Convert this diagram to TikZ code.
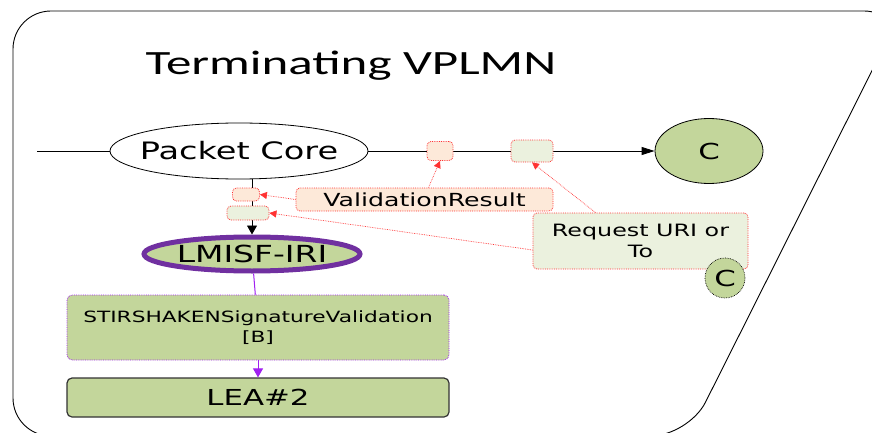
\documentclass[tikz,border=0pt]{standalone}
\usepackage{fontspec}
\newfontfamily\lblfont[FakeStretch=1.4]{DejaVu Sans}
\newfontfamily\ttlfont[FakeStretch=1.5]{Carlito}
\usetikzlibrary{calc}
\usetikzlibrary{arrows.meta}
\usetikzlibrary{shapes.geometric}

\definecolor{leafgreen}{RGB}{195,214,155}
\definecolor{palegreen}{RGB}{235,241,222}
\definecolor{palepeach}{RGB}{253,233,217}
\definecolor{iriborder}{RGB}{112,48,160}
\definecolor{irilink}{RGB}{160,32,240}
\definecolor{hintred}{RGB}{255,50,50}

\begin{document}
\begin{tikzpicture}[x=1pt,y=-1pt,
  core/.style={ellipse,draw,line width=0.8pt,inner sep=0pt},
  tag/.style={draw=hintred,densely dotted,line width=0.8pt,rounded corners=4pt,inner sep=0pt},
  hint/.style={draw=hintred,densely dotted,line width=0.7pt,-{Triangle[length=7pt,width=7pt,fill=hintred]}},
  greenbox/.style={fill=leafgreen,rounded corners=5pt,minimum width=382pt,align=center}]
  % Constants
  \pgfmathsetmacro\ax{252}
  \pgfmathsetmacro\ly{151}
  % Boundary
  \clip (0,0) rectangle (872,433);
  \draw[line width=0.9pt,rounded corners=38pt] (13,436) -- (13,11) -- (902,11) -- (688.5,436) -- cycle;
  \node[anchor=base,font=\ttlfont\fontsize{34}{40}\selectfont] (title) at (351,75) {Terminating VPLMN};
  % Main nodes
  \node[core,fill=white,minimum width=258pt,minimum height=56pt,
    label={[font=\lblfont\fontsize{24}{28}\selectfont]center:Packet Core}] (pc) at (239,\ly) {};
  \node[core,fill=leafgreen,minimum width=108pt,minimum height=65pt,
    label={[font=\lblfont\fontsize{22}{26}\selectfont]center:C}] (bigC) at (709,\ly) {};
  \node[core,draw=iriborder,line width=5pt,fill=leafgreen,minimum width=216pt,minimum height=34pt,
    label={[font=\lblfont\fontsize{23.5}{26}\selectfont]center:LMISF-IRI}] (lmisf) at (\ax,254) {};
  \node[greenbox,draw=irilink,densely dotted,line width=0.8pt,minimum height=65pt,
    font=\lblfont\fontsize{15.5}{20}\selectfont] (stir) at (258,327.5) {STIRSHAKENSignatureValidation\\{}[B]};
  \node[greenbox,draw=black!80,line width=1.2pt,minimum height=39pt,
    font=\lblfont\fontsize{22}{26}\selectfont] (lea) at (258,397.5) {LEA\#2};
  % Links
  \coordinate (inL) at (37,\ly);
  \draw[line width=0.8pt] (inL) -- (pc);
  \draw[line width=0.8pt,-{Triangle[length=13pt,width=8pt]}] (pc) -- (bigC);
  \draw[line width=0.8pt,-{Triangle[length=9pt,width=10pt]}] (pc.south -| lmisf) -- (lmisf.north);
  \draw[irilink,line width=1pt] (lmisf) -- (stir);
  \draw[irilink,line width=1pt,-{Triangle[length=9pt,width=10pt]}] (stir) -- (lea);
  % Tags on the links
  \node[tag,fill=palepeach,minimum width=26pt,minimum height=19pt] (tagA) at (440,\ly) {};
  \node[tag,fill=palegreen,minimum width=42pt,minimum height=22pt] (tagB) at (532,\ly) {};
  \node[tag,fill=palepeach,minimum width=27pt,minimum height=13pt] (tagC) at (246,194.5) {};
  \node[tag,fill=palegreen,minimum width=42pt,minimum height=14pt] (tagD) at (248,213) {};
  \node[tag,fill=palepeach,minimum width=257pt,minimum height=23pt,
    font=\lblfont\fontsize{18}{22}\selectfont] (vres) at (424.5,199.5) {ValidationResult};
  \node[tag,fill=palegreen,minimum width=215pt,minimum height=56pt,align=center,
    font=\lblfont\fontsize{17}{21}\selectfont] (req) at (640.5,241) {Request URI or\\To};
  \node[circle,draw,densely dotted,line width=0.7pt,fill=leafgreen,minimum size=40pt,inner sep=0pt,
    font=\lblfont\fontsize{22}{26}\selectfont] (smallC) at (725,278) {C};
  % Hints
  \draw[hint] (vres.west) -- (tagC.east);
  \draw[hint] ([xshift=4pt]vres.north) -- (tagA.south);
  \draw[hint] ([xshift=-45pt]req.north) -- (tagB.south);
  \draw[hint] ([yshift=-9pt]req.west) -- (tagD.east);
\end{tikzpicture}
\end{document}
